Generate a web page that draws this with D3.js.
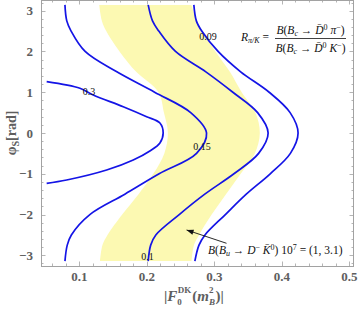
<!DOCTYPE html>
<html><head><meta charset="utf-8">
<script src="https://cdn.jsdelivr.net/npm/d3@7/dist/d3.min.js"></script>
<style>html,body{margin:0;padding:0;background:#fff}svg{display:block}</style>
</head><body>
<svg id="c" width="358" height="310"></svg>
<script>
// ---- data ----
const phiGrid = [3.1416, 2.75, 2.5, 2, 1.5, 1, 0.5, 0, -0.5, -1, -1.5, -2, -2.5, -2.75, -3.1416];
const bandLow  = [0.1293, 0.1333, 0.1397, 0.1594, 0.1841, 0.2172, 0.2252, 0.2311, 0.2258, 0.2095, 0.1876, 0.1634, 0.1416, 0.1341, 0.1304];
const bandHigh = [0.2659, 0.2742, 0.2818, 0.3015, 0.3230, 0.3404, 0.3607, 0.3674, 0.3600, 0.3390, 0.3172, 0.2960, 0.2773, 0.2698, 0.2662];
const contour015 = [0.0785, 0.0812, 0.0876, 0.1084, 0.1554, 0.2114, 0.2649, 0.2884, 0.2736, 0.2181, 0.1673, 0.1154, 0.0880, 0.0819, 0.0785];
const contour010 = [0.2019, 0.2083, 0.2176, 0.2424, 0.2874, 0.3274, 0.3641, 0.3797, 0.3656, 0.3290, 0.2858, 0.2479, 0.2132, 0.2056, 0.2019];
const contour009 = [0.2696, 0.2733, 0.2813, 0.3055, 0.3390, 0.3812, 0.4123, 0.4241, 0.4127, 0.3828, 0.3473, 0.3163, 0.2861, 0.2772, 0.2711];
const phi03 = [1.258, 1.096, 0.932, 0.645, 0.400, 0.245, 0, -0.245, -0.44, -0.662, -0.908, -1.153, -1.234];
const contour03 = [0.0514, 0.1007, 0.1204, 0.1649, 0.1996, 0.2193, 0.2241, 0.2193, 0.2044, 0.1797, 0.1403, 0.0810, 0.0514];
const contourLabels = ["0.3", "0.15", "0.1", "0.09"];
const labelF   = [0.114, 0.2815, 0.2007, 0.2904];
const labelPhi = [1.03, -0.32, -3.02, 2.355];
const xTicks = [0.1, 0.2, 0.3, 0.4, 0.5];
const yTicks = [-3, -2, -1, 0, 1, 2, 3];

// ---- layout ----
const svg = d3.select("#c");
const L = 41, R = 354, T = 0, B = 266;
const x = d3.scaleLinear().domain([0.043, 0.507]).range([L, R]);
const y = d3.scaleLinear().domain([-3.262, 3.262]).range([B, T]);
const frameCol = "#a2a2a2", labCol = "#5e5e5e";
const serif = "'Liberation Serif','Times New Roman',serif";

svg.append("defs").append("clipPath").attr("id","clip")
  .append("rect").attr("x",L).attr("y",T).attr("width",R-L).attr("height",B-T);
const g = svg.append("g").attr("clip-path","url(#clip)");

// band
const band = phiGrid.map((p,i)=>({p, lo:bandLow[i], hi:bandHigh[i]}));
g.append("path").datum(band)
  .attr("d", d3.area().y(d=>y(d.p)).x0(d=>x(d.lo)).x1(d=>x(d.hi)).curve(d3.curveCatmullRom))
  .attr("fill","#fcf9b2").attr("stroke","none");

// contours
const line = d3.line().x(d=>x(d[0])).y(d=>y(d[1])).curve(d3.curveCatmullRom);
const curves = [
  phi03.map((p,i)=>[contour03[i], p]),
  phiGrid.map((p,i)=>[contour015[i], p]),
  phiGrid.map((p,i)=>[contour010[i], p]),
  phiGrid.map((p,i)=>[contour009[i], p])
];
curves.forEach(c=>{
  g.append("path").datum(c).attr("d", line)
    .attr("fill","none").attr("stroke","#1414e6").attr("stroke-width",1.7);
});

// contour labels
contourLabels.forEach((t,i)=>{
  svg.append("text").attr("x", x(labelF[i])).attr("y", y(labelPhi[i]))
    .attr("text-anchor","middle").attr("dominant-baseline","central")
    .attr("font-family", serif).attr("font-size",10).attr("fill","#111").text(t);
});

// frame
svg.append("rect").attr("x",L+0.5).attr("y",T+0.5).attr("width",R-L-1).attr("height",B-T)
  .attr("fill","none").attr("stroke",frameCol).attr("stroke-width",1);

// ticks
const fr = svg.append("g").attr("stroke",frameCol).attr("stroke-width",0.8);
const xMinor = d3.range(0.04, 0.5101, 0.02).filter(v=>v>=0.043 && v<=0.507);
xMinor.forEach(v=>{
  const major = xTicks.some(t=>Math.abs(t-v)<1e-6);
  const len = major ? 4.5 : 2.5, px = Math.round(x(v))+0.5;
  fr.append("line").attr("x1",px).attr("x2",px).attr("y1",B).attr("y2",B-len);
  fr.append("line").attr("x1",px).attr("x2",px).attr("y1",T).attr("y2",T+len);
});
const yMinor = d3.range(-3.2, 3.2001, 0.2);
yMinor.forEach(v=>{
  const major = yTicks.some(t=>Math.abs(t-v)<1e-6);
  const len = major ? 4.5 : 2.5, py = Math.round(y(v))+0.5;
  fr.append("line").attr("x1",L).attr("x2",L+len).attr("y1",py).attr("y2",py);
  fr.append("line").attr("x1",R).attr("x2",R-len).attr("y1",py).attr("y2",py);
});

// tick labels
xTicks.forEach(v=>{
  svg.append("text").attr("x",x(v)).attr("y",281).attr("text-anchor","middle")
    .attr("font-family",serif).attr("font-weight","bold").attr("font-size",13)
    .attr("fill",labCol).text(d3.format(".1f")(v));
});
yTicks.forEach(v=>{
  svg.append("text").attr("x",33).attr("y",y(v)).attr("text-anchor","end")
    .attr("dominant-baseline","central")
    .attr("font-family",serif).attr("font-weight","bold").attr("font-size",13)
    .attr("fill",labCol).text(v<0 ? "\u2212"+Math.abs(v) : String(v));
});

// axis titles
const yt = svg.append("text").attr("transform","translate(16,133) rotate(-90)")
  .attr("text-anchor","middle").attr("font-family",serif).attr("font-weight","bold")
  .attr("font-size",14).attr("fill",labCol);
yt.append("tspan").text("\u03C6");
yt.append("tspan").attr("font-size",10).attr("dy",3).text("S");
yt.append("tspan").attr("dy",-3).text("[rad]");

// x title built from pieces, each placed after measuring the previous
const xg = svg.append("g").attr("font-family",serif).attr("font-weight","bold").attr("fill",labCol);
let cx = 164; const base = 301;
function piece(t, size, dy, italic, advance){
  const el = xg.append("text").attr("x",cx).attr("y",base+dy).attr("font-size",size)
    .attr("font-style", italic ? "italic" : "normal").text(t);
  const w = el.node().getComputedTextLength();
  if (advance) cx += w;
  return w;
}
piece("|", 15, 0, false, true);
piece("F", 15, 0, true, true);
let w1 = piece("0", 9, 3.5, false, false);
cx += 0.5;
let w2 = piece("DK", 9, -8, false, false);
cx += Math.max(w1, w2) + 1;
piece("(", 15, 0, false, true);
piece("m", 15, 0, true, true);
w1 = piece("B", 9, 3.5, true, false);
w2 = piece("2", 9, -8, false, false);
cx += Math.max(w1, w2) + 0.5;
piece(")|", 15, 0, false, true);

// formula
function tx(parent, xx, yy, anchor){
  return parent.append("text").attr("x",xx).attr("y",yy).attr("text-anchor",anchor||"start")
    .attr("font-family",serif).attr("font-size",11.5).attr("fill","#111");
}
const rt = tx(svg, 241, 41);
rt.append("tspan").attr("font-style","italic").text("R");
rt.append("tspan").attr("font-size",8).attr("dy",2).attr("font-style","italic").text("\u03C0/K");
rt.append("tspan").attr("dy",-2).text(" =");
function frac(yy, last){
  const t = tx(svg, 310.5, yy, "middle");
  t.append("tspan").attr("font-style","italic").text("B");
  t.append("tspan").text("(");
  t.append("tspan").attr("font-style","italic").text("B");
  t.append("tspan").attr("font-size",8).attr("dy",2).attr("font-style","italic").text("c");
  t.append("tspan").attr("dy",-2).text(" \u2192 ");
  t.append("tspan").attr("font-style","italic").text("D\u0304");
  t.append("tspan").attr("font-size",8).attr("dy",-4).text("0");
  t.append("tspan").attr("dy",4).attr("font-style","italic").text(" "+last);
  t.append("tspan").attr("font-size",8).attr("dy",-4).text("\u2212");
  t.append("tspan").attr("dy",4).text(")");
}
frac(34, "\u03C0");
frac(52, "K");
svg.append("line").attr("x1",275).attr("x2",346).attr("y1",38.5).attr("y2",38.5)
  .attr("stroke","#111").attr("stroke-width",0.8);

// annotation
const ar = [[0.318,-2.705],[0.2588,-2.379]];
const ax1 = x(ar[0][0]), ay1 = y(ar[0][1]), ax2 = x(ar[1][0]), ay2 = y(ar[1][1]);
svg.append("line").attr("x1",ax1).attr("y1",ay1).attr("x2",ax2).attr("y2",ay2)
  .attr("stroke","#111").attr("stroke-width",0.9);
const ang = Math.atan2(ay2-ay1, ax2-ax1), hl = 7, hw = 2.6;
const bx = ax2 - hl*Math.cos(ang), by = ay2 - hl*Math.sin(ang);
svg.append("path").attr("d",`M${ax2},${ay2}L${bx - hw*Math.sin(ang)},${by + hw*Math.cos(ang)}L${bx + hw*Math.sin(ang)},${by - hw*Math.cos(ang)}Z`)
  .attr("fill","#111");

const an = tx(svg, 208, 254);
an.append("tspan").attr("font-style","italic").text("B");
an.append("tspan").text("(");
an.append("tspan").attr("font-style","italic").text("B");
an.append("tspan").attr("font-size",8).attr("dy",2).attr("font-style","italic").text("u");
an.append("tspan").attr("dy",-2).text(" \u2192 ");
an.append("tspan").attr("font-style","italic").text("D");
an.append("tspan").attr("font-size",8).attr("dy",-4).text("\u2212");
an.append("tspan").attr("dy",4).attr("font-style","italic").text(" K\u0304");
an.append("tspan").attr("font-size",8).attr("dy",-4).text("0");
an.append("tspan").attr("dy",4).text(") 10");
an.append("tspan").attr("font-size",8).attr("dy",-4).text("7");
an.append("tspan").attr("dy",4).text(" = (1, 3.1)");
</script>
</body></html>
